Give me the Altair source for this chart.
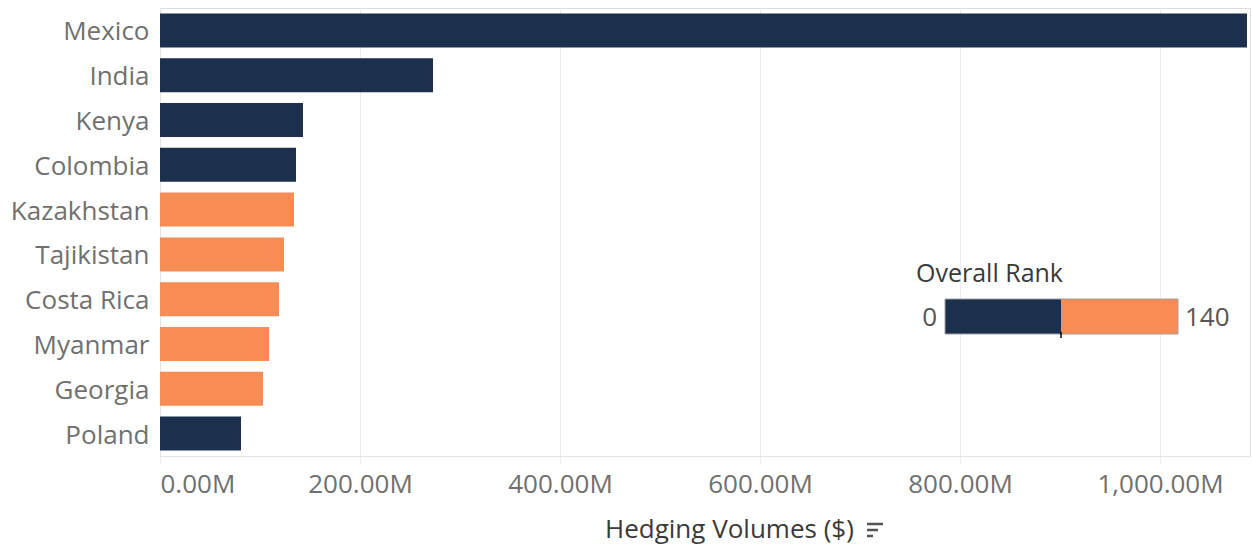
import altair as alt
import pandas as pd

countries = ["Mexico", "India", "Kenya", "Colombia", "Kazakhstan", "Tajikistan",
             "Costa Rica", "Myanmar", "Georgia", "Poland"]
volumes_m = [1087, 273, 143, 136, 134, 124, 119, 109, 103, 81]
rank_band = ["0-70", "0-70", "0-70", "0-70", "70-140", "70-140",
             "70-140", "70-140", "70-140", "0-70"]
band_domain = ["0-70", "70-140"]
band_colors = ["#1c2f4c", "#f78d54"]
x_ticks = [0, 200, 400, 600, 800, 1000]

FONT = "Open Sans"

df = pd.DataFrame({"country": countries, "volume": volumes_m, "band": rank_band})

bars = alt.Chart(df).mark_bar().encode(
    y=alt.Y("country:N", sort=countries,
            scale=alt.Scale(paddingInner=0.24, paddingOuter=0.12),
            axis=alt.Axis(title=None, ticks=False, domain=True, domainColor="#e4e4e4",
                          labelFont=FONT, labelFontSize=26, labelColor="#707070",
                          labelPadding=11, labelBaseline="middle", labelOffset=2)),
    x=alt.X("volume:Q", scale=alt.Scale(domain=[0, 1090], nice=False, zero=True),
            axis=alt.Axis(title=None, values=x_ticks, grid=True, gridColor="#ececec",
                          tickColor="#ececec", tickSize=8, domainColor="#e4e4e4",
                          labelExpr="format(datum.value, ',.2f') + 'M'",
                          labelFont=FONT, labelFontSize=26, labelColor="#707070",
                          labelPadding=7, labelFlush=True)),
    color=alt.Color("band:N", scale=alt.Scale(domain=band_domain, range=band_colors),
                    legend=None),
)

one = alt.Data(values=[{"a": 1}])

x_title = alt.Chart(one).mark_text(
    text="Hedging Volumes ($)", font=FONT, fontSize=26, color="#3a3a3a",
    align="left", baseline="alphabetic"
).encode(x=alt.value(445), y=alt.value(530))

icon = alt.layer(
    alt.Chart(one).mark_rule(color="#555555", strokeWidth=2.5).encode(
        x=alt.value(707), x2=alt.value(723), y=alt.value(516)),
    alt.Chart(one).mark_rule(color="#555555", strokeWidth=2.5).encode(
        x=alt.value(707), x2=alt.value(718), y=alt.value(522)),
    alt.Chart(one).mark_rule(color="#555555", strokeWidth=2.5).encode(
        x=alt.value(707), x2=alt.value(713), y=alt.value(528)),
)

leg_title = alt.Chart(one).mark_text(
    text="Overall Rank", font=FONT, fontSize=25, color="#3a3a3a",
    align="left", baseline="alphabetic"
).encode(x=alt.value(756), y=alt.value(274))

leg_left = alt.Chart(one).mark_rect(color=band_colors[0]).encode(
    x=alt.value(785), x2=alt.value(901), y=alt.value(291), y2=alt.value(326))
leg_right = alt.Chart(one).mark_rect(color=band_colors[1]).encode(
    x=alt.value(901), x2=alt.value(1018), y=alt.value(291), y2=alt.value(326))
leg_border = alt.Chart(one).mark_rect(fill=None, stroke="#a0a0a0", strokeWidth=1).encode(
    x=alt.value(785), x2=alt.value(1018), y=alt.value(291), y2=alt.value(326))
leg_tick = alt.Chart(one).mark_rule(color="#000000", strokeWidth=1.5).encode(
    x=alt.value(901), y=alt.value(324), y2=alt.value(330))
leg_min = alt.Chart(one).mark_text(
    text="0", font=FONT, fontSize=26, color="#555555", align="right", baseline="middle"
).encode(x=alt.value(777), y=alt.value(310))
leg_max = alt.Chart(one).mark_text(
    text="140", font=FONT, fontSize=26, color="#555555", align="left", baseline="middle"
).encode(x=alt.value(1025), y=alt.value(310))

chart = alt.layer(
    bars, x_title, icon, leg_title, leg_left, leg_right, leg_border, leg_tick, leg_min, leg_max
).properties(
    width=1090, height=448,
    autosize=alt.AutoSizeParams(type="none"),
    padding={"left": 160, "top": 8, "right": 2, "bottom": 89},
).configure_view(stroke=None).configure(background="white")

chart.save("out.html", embed_options={"renderer": "svg", "actions": False})
